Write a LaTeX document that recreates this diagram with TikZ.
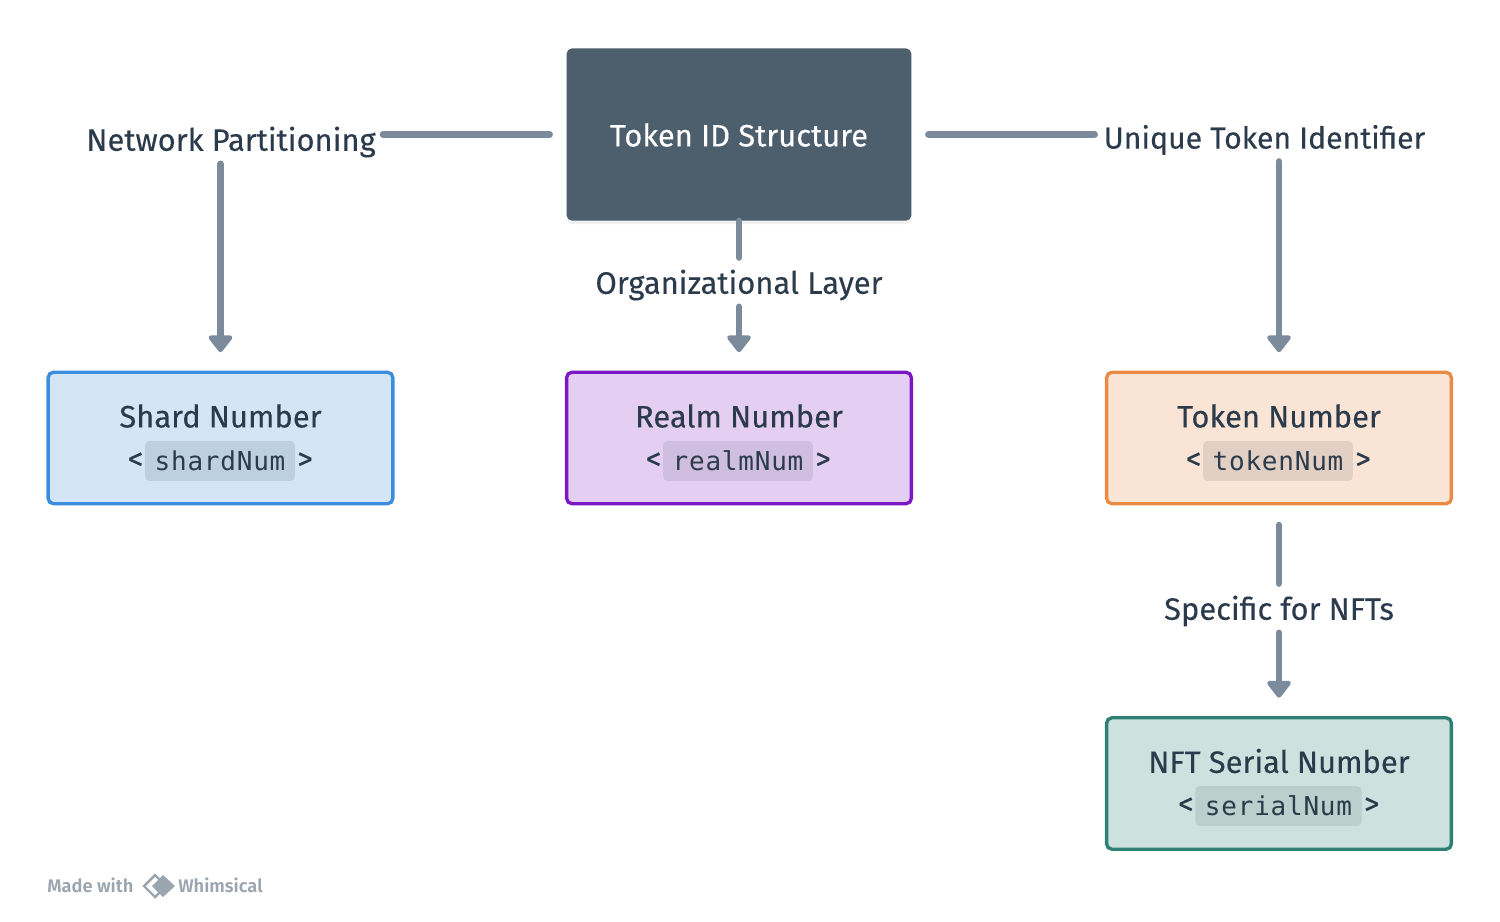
\documentclass[tikz,border=0pt]{standalone}
\usepackage{fontspec}
\setmainfont{Fira Sans}[FakeBold=0.25]
\setmonofont{DejaVu Sans Mono}[LetterSpace=3]
\newfontfamily\brandfont{Fira Sans SemiBold}
\usetikzlibrary{arrows.meta,shadows}
\definecolor{inkc}{HTML}{2B3B4B}
\definecolor{linkc}{HTML}{7B8B9B}
\definecolor{rootc}{HTML}{4D5E6D}
\definecolor{shardc}{HTML}{3A8EDD}
\definecolor{shardf}{HTML}{D4E5F6}
\definecolor{shardk}{HTML}{BDD0E0}
\definecolor{realmc}{HTML}{7A18C4}
\definecolor{realmf}{HTML}{E4CFF3}
\definecolor{realmk}{HTML}{CFBEDF}
\definecolor{tokenc}{HTML}{E98B45}
\definecolor{tokenf}{HTML}{FAE4D6}
\definecolor{tokenk}{HTML}{E2D0C4}
\definecolor{serialc}{HTML}{2F7F75}
\definecolor{serialf}{HTML}{CDE2DF}
\definecolor{serialk}{HTML}{BBCFCD}
\definecolor{markc}{HTML}{9AA5B0}
\tikzset{
	link/.style={line width=3.8pt, line cap=round, color=linkc},
	arrow/.style={link, -{Triangle[width=15.5pt, length=10.5pt, round]}, shorten <=3.5pt, shorten >=10.5pt},
	tag/.style={text=inkc, font=\fontsize{17.6}{20}\selectfont, inner sep=0pt},
	idbox/.style={draw=#1c, fill=#1f, line width=1.9pt, rounded corners=3pt, minimum width=196.2pt, minimum height=74.8pt, inner sep=0pt},
	chip/.style={fill=#1k, rounded corners=2.5pt, text=inkc, font=\ttfamily\fontsize{14.8}{18}\selectfont, minimum height=22.7pt, inner sep=0pt, inner xsep=5.4pt,
		label={[tag, xshift=-0.6pt]left:{<}}, label={[tag, xshift=1pt]right:{>}}},
	brand/.style={text=markc, font=\brandfont\fontsize{10.4}{12}\selectfont, inner sep=0pt},
}
\begin{document}
\begin{tikzpicture}[x=0.02cm, y=-0.02cm]
	\useasboundingbox (0, 0) rectangle (1500, 922);
	% top box
	\node [fill=rootc, rounded corners=3pt, minimum width=196.2pt, minimum height=98pt, inner sep=0pt, drop shadow={shadow xshift=0pt, shadow yshift=-2pt, opacity=0.12}] (root) at (739, 134.5) {};
	\node [tag, text=white] (roottext) at (739, 135) {Token ID Structure};

	% labels
	\node [tag] (netlabel) at (231, 142) {Network Partitioning};
	\node [tag, font=\fontsize{17.2}{20}\selectfont] (uniquelabel) at (1264.5, 140) {Unique Token Identifier};
	\node [tag] (orglabel) at (739, 285) {Organizational Layer};
	\node [tag] (nftlabel) at (1279, 611) {Specific for NFTs};

	% id boxes
	\node [idbox=shard] (shard) at (220.5, 438) {};
	\node [idbox=realm] (realm) at (739, 438) {};
	\node [idbox=token] (token) at (1279, 438) {};
	\node [idbox=serial] (serial) at (1279, 783.5) {};

	\node [tag] (shardname) at (220.5, 416) {Shard Number};
	\node [tag] (realmname) at (739, 416) {Realm Number};
	\node [tag] (tokenname) at (1279, 416) {Token Number};
	\node [tag] (serialname) at (1279, 761) {NFT Serial Number};

	\node [chip=shard] (shardcode) at (220, 461) {shardNum};
	\node [chip=realm] (realmcode) at (738, 461) {realmNum};
	\node [chip=token] (tokencode) at (1278, 461) {tokenNum};
	\node [chip=serial] (serialcode) at (1278.5, 806) {serialNum};

	% connectors
	\draw [link, shorten <=9.5pt, shorten >=4pt] (root.west) -- (netlabel.east |- root.west);
	\draw [link, shorten <=9.5pt, shorten >=5pt] (root.east) -- (uniquelabel.west |- root.east);
	\draw [link, shorten >=6.7pt] (root.south) -- (orglabel.north);
	\draw [link, shorten <=1pt, shorten >=6.7pt] (token.south) ++(0, 18) -- (nftlabel.north);

	\draw [arrow] (netlabel.south -| shard.north) -- (shard.north);
	\draw [arrow] (uniquelabel.south -| token.north) -- (token.north);
	\draw [arrow] (orglabel.south) -- (realm.north);
	\draw [arrow] (nftlabel.south) -- (serial.north);

	% footer
	\node [brand, anchor=west] (madewith) at (47, 885) {Made with};
	\node [brand, anchor=west] (whimsical) at (178, 885) {Whimsical};
	\draw [markc, line width=1.4pt] (155, 875) -- (144, 886) -- (155, 897) -- (166, 886) -- cycle;
	\fill [markc] (163, 875) -- (175, 886) -- (163, 897) -- (152, 886) -- cycle;
\end{tikzpicture}
\end{document}
